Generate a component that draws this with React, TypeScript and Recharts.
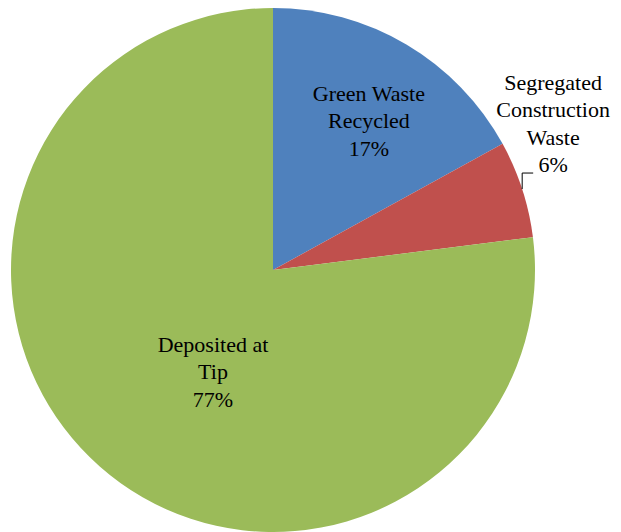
import React from 'react';
import { PieChart, Pie, Cell } from 'recharts';

const categories = ['Green Waste Recycled', 'Segregated Construction Waste', 'Deposited at Tip'];
const values = [17, 6, 77];
const labelLines = [
  ['Green Waste', 'Recycled', '17%'],
  ['Segregated', 'Construction', 'Waste', '6%'],
  ['Deposited at', 'Tip', '77%'],
];
const colors = ['#4F81BD', '#C0504D', '#9BBB59'];

// label anchor (first baseline) relative to centre, as a fraction of the radius
const labelAnchor = [
  { dx: 0.366, dy: -0.645 },
  { dx: 1.069, dy: -0.687 },
  { dx: -0.229, dy: 0.313 },
];

const data = categories.map((name, i) => ({ name, value: values[i] }));

const FONT = 'Times New Roman';
const RAD = Math.PI / 180;

const renderLabel = (props: any) => {
  const { cx, cy, outerRadius, midAngle, index } = props;
  const anchor = labelAnchor[index];
  const x = cx + anchor.dx * outerRadius;
  const y = cy + anchor.dy * outerRadius;
  const lines = labelLines[index];
  let leader = null;
  if (index === 1) {
    const ex = cx + outerRadius * Math.cos(-midAngle * RAD);
    const ey = cy + outerRadius * Math.sin(-midAngle * RAD);
    const by = ey - 16;
    leader = (
      <path d={`M${ex},${ey} L${ex},${by} L${ex + 11},${by}`} stroke="#000" strokeWidth={1} fill="none" />
    );
  }
  return (
    <g key={`lbl-${index}`}>
      {leader}
      <text x={x} y={y} textAnchor="middle" fill="#000" fontFamily={FONT} fontSize={22}>
        {lines.map((l, i) => (
          <tspan key={i} x={x} dy={i === 0 ? 0 : 27.3}>
            {l}
          </tspan>
        ))}
      </text>
    </g>
  );
};

export default function App() {
  return (
    <div style={{ position: 'absolute', left: 0, top: 0, width: 621, height: 532, background: '#fff' }}>
      <PieChart width={621} height={532} margin={{ top: 0, right: 0, bottom: 0, left: 0 }}>
        <Pie
          data={data}
          dataKey="value"
          nameKey="name"
          cx={273}
          cy={270}
          outerRadius={262}
          startAngle={90}
          endAngle={-270}
          stroke="none"
          label={renderLabel}
          labelLine={false}
          isAnimationActive={false}
        >
          {data.map((d, i) => (
            <Cell key={d.name} fill={colors[i]} />
          ))}
        </Pie>
      </PieChart>
      {/* warms up the serif face so the pie labels pick it up */}
      <svg width={621} height={532} style={{ position: 'absolute', left: 0, top: 0, pointerEvents: 'none' }}>
        <text x={600} y={525} fontFamily={FONT} fontSize={22} fill="#fff" fillOpacity={0.01}>
          Segregated
        </text>
      </svg>
    </div>
  );
}
